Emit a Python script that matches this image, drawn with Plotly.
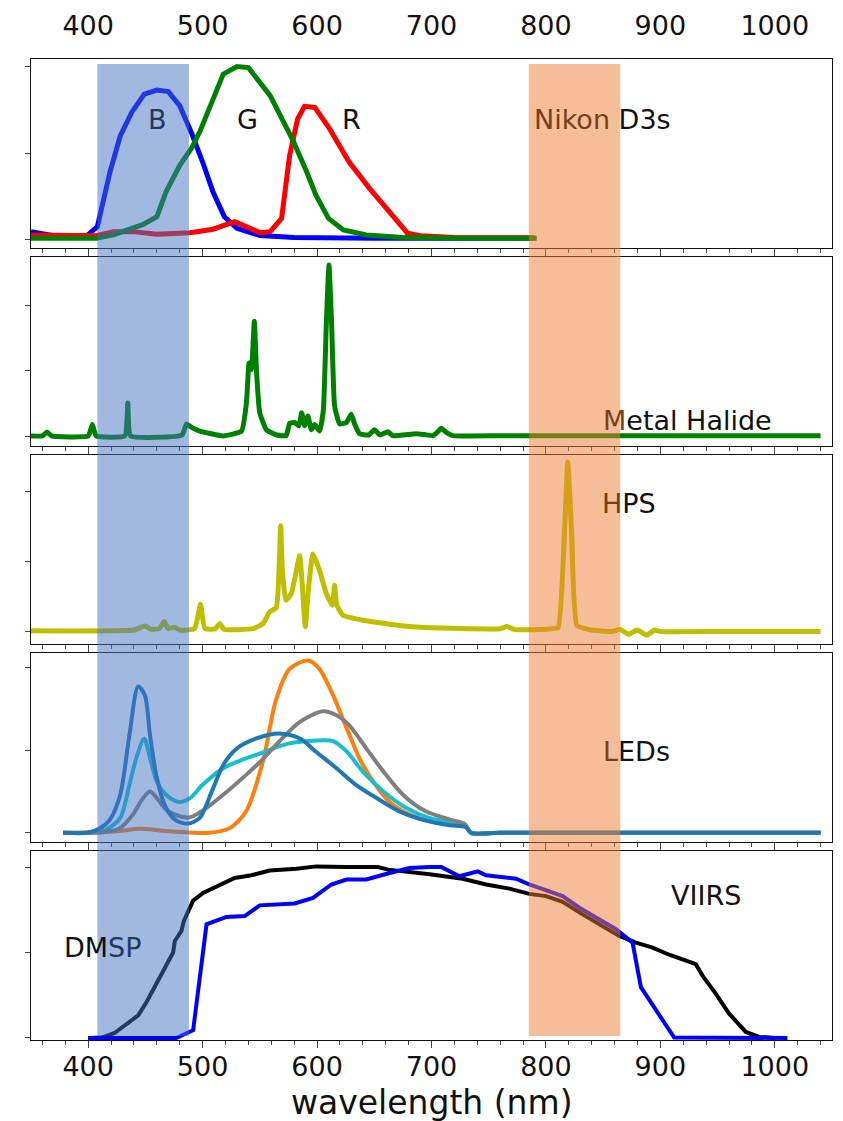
import plotly.graph_objects as go
from plotly.subplots import make_subplots

# ---------------- data ----------------
# Panel 1: Nikon D3s RGB sensitivities
nikon_b_nm = [350, 370, 399, 408, 419, 428, 438, 449, 460, 470, 480, 490, 500, 509, 519, 530, 550, 580, 650, 790]
nikon_b = [0.044, 0.021, 0.021, 0.073, 0.39, 0.60, 0.736, 0.842, 0.866, 0.857, 0.775, 0.621, 0.448, 0.275, 0.130,
           0.063, 0.021, 0.01, 0.005, 0.005]
nikon_r_nm = [350, 407, 422, 439, 460, 489, 509, 528, 538, 550, 559, 569, 576, 583, 589, 598, 611, 628, 646, 663,
              679, 690, 720, 790]
nikon_r = [0.025, 0.02, 0.044, 0.044, 0.029, 0.038, 0.058, 0.102, 0.073, 0.038, 0.044, 0.121, 0.486, 0.698, 0.771,
           0.765, 0.64, 0.448, 0.294, 0.159, 0.035, 0.02, 0.01, 0.008]
nikon_g_nm = [350, 407, 422, 448, 460, 468, 480, 490, 498, 508, 518, 530, 540, 559, 570, 579, 591, 599, 610, 623,
              643, 672, 720, 792]
nikon_g = [0.005, 0.005, 0.025, 0.086, 0.13, 0.275, 0.429, 0.525, 0.631, 0.794, 0.958, 1.002, 0.996, 0.833, 0.698,
           0.573, 0.39, 0.256, 0.121, 0.054, 0.025, 0.012, 0.006, 0.005]

# Panel 2: Metal Halide spectrum
mh_nm = [350, 360, 364, 368, 400, 403.6, 407, 432, 434.6, 437, 482, 485.9, 490, 497.5, 518, 534, 538.3, 540.6,
         542.6, 545.2, 547, 549.9, 555.7, 565, 573, 576.1, 580.4, 584.2, 586.5, 589.2, 592, 595, 597.9, 602.2,
         605.5, 608.1, 610.4, 612.7, 615.3, 619.7, 625.6, 629.9, 632.8, 637.2, 645, 650.2, 655, 661.9, 666, 686.6,
         693.9, 701, 705, 708.5, 712.9, 718.6, 760, 850, 950, 1040]
mh = [0.003, 0.003, 0.033, 0.003, 0.003, 0.089, 0.003, 0.003, 0.253, 0.003, 0.01, 0.094, 0.07, 0.04, 0.003, 0.04,
      0.258, 0.56, 0.51, 0.877, 0.51, 0.18, 0.05, 0.01, 0.005, 0.1, 0.105, 0.08, 0.18, 0.08, 0.155, 0.05, 0.09,
      0.04, 0.2, 0.864, 1.306, 0.864, 0.232, 0.094, 0.105, 0.169, 0.094, 0.02, 0.01, 0.05, 0.01, 0.035, 0.005,
      0.02, 0.013, 0.005, 0.03, 0.061, 0.03, 0.005, 0.004, 0.004, 0.004, 0.004]

# Panel 3: High Pressure Sodium spectrum
hps_nm = [350, 440, 449.6, 455, 462, 466.4, 470, 475.4, 480, 493, 498.1, 502, 511, 515, 518.5, 544, 552.8, 558.6,
          564.4, 566.8, 568.2, 569.6, 572.6, 577.5, 584.8, 587.2, 589.7, 592.6, 596.4, 602.2, 608.1, 613.3, 615.3,
          617.3, 622.6, 640.1, 660.5, 683.7, 724.4, 760, 766, 772, 782.6, 805, 810.7, 816.3, 819.1, 822.4, 827.1,
          838.8, 858, 865, 872, 880, 888, 895, 900, 950, 1000, 1040]
hps = [0.005, 0.01, 0.04, 0.015, 0.02, 0.071, 0.02, 0.03, 0.01, 0.02, 0.194, 0.02, 0.02, 0.056, 0.015, 0.02,
       0.056, 0.14, 0.171, 0.45, 0.756, 0.45, 0.223, 0.27, 0.542, 0.317, 0.033, 0.317, 0.554, 0.436, 0.27, 0.188,
       0.33, 0.188, 0.116, 0.08, 0.056, 0.033, 0.021, 0.02, 0.035, 0.015, 0.012, 0.02, 0.028, 0.72, 1.213, 0.72,
       0.045, 0.012, 0.0, 0.015, -0.02, 0.01, -0.026, 0.01, 0.0, 0.0, 0.0, 0.0]

# Panel 4: LED spectra
led_orange_nm = [378, 425, 445, 471, 506, 524, 538, 553, 564, 576, 592, 602, 614, 626, 637, 649, 663, 681, 701,
                 730, 734.6, 760, 850, 950, 1040]
led_orange = [0, 0.01, 0.024, 0.01, 0.0, 0.03, 0.13, 0.44, 0.80, 0.99, 1.04, 0.99, 0.83, 0.63, 0.45, 0.31, 0.19,
              0.11, 0.066, 0.04, 0, 0, 0, 0, 0]
led_cyan_nm = [378, 410, 416, 428, 436, 442, 449, 454, 460, 468, 479, 489, 500, 518, 538, 555, 570, 591, 614, 626,
               640, 658, 678, 698, 730, 734.6, 760, 850, 950, 1040]
led_cyan = [0, 0.005, 0.02, 0.09, 0.29, 0.45, 0.57, 0.45, 0.31, 0.23, 0.186, 0.21, 0.29, 0.39, 0.45, 0.49, 0.53,
            0.554, 0.554, 0.49, 0.37, 0.25, 0.15, 0.09, 0.04, 0, 0, 0, 0, 0]
led_gray_nm = [378, 415, 428, 439, 448, 454, 460, 468, 480, 489, 500, 518, 538, 552, 564, 585, 605, 617, 628, 643,
               658, 675, 695, 716, 729, 734.6, 760, 850, 950, 1040]
led_gray = [0, 0.005, 0.03, 0.11, 0.21, 0.25, 0.21, 0.14, 0.10, 0.094, 0.134, 0.23, 0.35, 0.44, 0.53, 0.67, 0.734,
            0.71, 0.65, 0.51, 0.37, 0.23, 0.13, 0.08, 0.054, 0, 0, 0, 0, 0]
led_blue_nm = [378, 399, 410, 419, 428, 436, 443.7, 449.5, 454, 460, 468, 477, 487, 497.5, 508, 518, 530, 547,
               567, 585, 599, 617, 634, 652, 672, 695, 716, 730, 734.6, 760, 850, 950, 1040]
led_blue = [0, 0, 0.026, 0.08, 0.23, 0.59, 0.884, 0.83, 0.59, 0.33, 0.15, 0.074, 0.056, 0.09, 0.25, 0.41, 0.51,
            0.57, 0.60, 0.57, 0.49, 0.39, 0.29, 0.21, 0.13, 0.074, 0.046, 0.034, 0, 0, 0, 0, 0]

# Panel 5: DMSP and VIIRS relative spectral responses
dmsp_nm = [400, 412, 423, 433.5, 443.7, 451, 459.7, 468.4, 474.2, 475.7, 481.5, 483.5, 487.3, 491.7, 500.4, 515,
           528, 542.6, 558.6, 581.9, 599.4, 625.6, 653.1, 661.9, 678, 698.3, 727.3, 747.7, 768.1, 785.5, 800.1,
           814.6, 832, 849.5, 864.1, 878.6, 893.2, 907.7, 931, 936.8, 948.5, 960.1, 974.7, 986.3, 1000]
dmsp = [0, 0.002, 0.029, 0.084, 0.132, 0.21, 0.316, 0.423, 0.5, 0.568, 0.626, 0.684, 0.742, 0.804, 0.849, 0.898,
        0.936, 0.952, 0.98, 0.99, 1.004, 1.0, 1.0, 0.985, 0.975, 0.958, 0.932, 0.898, 0.874, 0.843, 0.83, 0.797,
        0.723, 0.655, 0.597, 0.558, 0.529, 0.487, 0.432, 0.365, 0.258, 0.142, 0.035, 0.006, 0.0]
viirs_nm = [400, 457, 477, 491.7, 503.4, 520.8, 536.8, 549.9, 580.4, 596.4, 612.5, 625.6, 643, 663.4, 680.8, 698.3,
            708.5, 724.4, 740.4, 747.7, 773.9, 785.5, 814.6, 829.2, 861.2, 875.7, 883, 912.1, 1011]
viirs = [0, 0, 0, 0.045, 0.665, 0.708, 0.713, 0.776, 0.787, 0.82, 0.898, 0.927, 0.927, 0.965, 0.994, 1.0, 1.0,
         0.946, 0.975, 0.952, 0.932, 0.898, 0.83, 0.762, 0.636, 0.558, 0.297, 0.002, 0.0]

x_ticks = [400, 500, 600, 700, 800, 900, 1000]
y_ticks = [0, 0.5, 1.0]
blue_band = [408, 488]
orange_band = [785, 865]

# ---------------- figure ----------------
W, H = 843, 1121
M_L, M_R, M_T, M_B = 31, 10, 53, 81
PLOT_H = H - M_T - M_B


def py2paper(py):
    return (H - M_B - py) / PLOT_H


FONT = "DejaVu Sans"
fig = make_subplots(rows=5, cols=1, shared_xaxes=True, vertical_spacing=0.0094)

series = [
    (1, nikon_b_nm, nikon_b, "#0000ff", 5, "linear", 0),
    (1, nikon_r_nm, nikon_r, "#ff0000", 5, "linear", 0),
    (1, nikon_g_nm, nikon_g, "#008000", 5, "linear", 0),
    (2, mh_nm, mh, "#008000", 5, "spline", 0.4),
    (3, hps_nm, hps, "#bfbf00", 5, "spline", 0.4),
    (4, led_orange_nm, led_orange, "#ff7f0e", 4, "spline", 0.8),
    (4, led_cyan_nm, led_cyan, "#17becf", 4, "spline", 0.8),
    (4, led_gray_nm, led_gray, "#7f7f7f", 4, "spline", 0.8),
    (4, led_blue_nm, led_blue, "#1f77b4", 4, "spline", 0.8),
    (5, dmsp_nm, dmsp, "#000000", 4, "linear", 0),
    (5, viirs_nm, viirs, "#0000ff", 4, "linear", 0),
]
for row, xs, ys, col, lw, shape, sm in series:
    line = dict(color=col, width=lw, shape=shape)
    if shape == "spline":
        line["smoothing"] = sm
    fig.add_trace(go.Scatter(x=xs, y=ys, mode="lines", line=line,
                             showlegend=False, hoverinfo="skip"), row=row, col=1)

y_ranges = [[-0.050, 1.046], [-0.073, 1.367], [-0.089, 1.262], [-0.055, 1.085], [-0.012, 1.093]]
for i in range(1, 6):
    fig.update_xaxes(range=[350, 1050], showline=True, mirror=True, linecolor="#111", linewidth=1.3,
                     ticks="outside", tickmode="array", tickvals=x_ticks, ticklen=7, tickwidth=1.2,
                     tickcolor="#444",
                     minor=dict(ticks="outside", dtick=20, tick0=400, ticklen=4, tickwidth=1, tickcolor="#444"),
                     showgrid=False, zeroline=False,
                     tickfont=dict(family=FONT, size=27, color="#111"),
                     ticklabelstandoff=-5, row=i, col=1)
    fig.update_yaxes(range=y_ranges[i - 1], showline=True, mirror=True, linecolor="#111", linewidth=1.3,
                     ticks="outside", tickmode="array", tickvals=y_ticks, ticklen=5, tickwidth=1.2,
                     tickcolor="#444", showticklabels=False, showgrid=False, zeroline=False,
                     row=i, col=1)
fig.update_xaxes(showticklabels=True, row=5, col=1)

# top axis with labels only
fig.add_trace(go.Scatter(x=[None], y=[None], xaxis="x6", yaxis="y", showlegend=False, hoverinfo="skip"))
fig.update_layout(xaxis6=dict(overlaying="x", anchor="y", side="top", range=[350, 1050], tickmode="array",
                              tickvals=x_ticks, ticks="", showline=False, showgrid=False, zeroline=False,
                              tickfont=dict(family=FONT, size=27, color="#111"), ticklabelstandoff=18))

# translucent bands across all panels
for (x0, x1), c in [(blue_band, "#4472C4"), (orange_band, "#ED7D31")]:
    fig.add_shape(type="rect", xref="x", yref="paper", x0=x0, x1=x1, y0=py2paper(1036), y1=py2paper(58),
                  fillcolor=c, opacity=0.5, line=dict(width=0), layer="above")

BLUE_DARK = "#223962"
ORANGE_DARK = "#773F19"
labels = [
    (460.4, 114.2, f'<span style="color:{BLUE_DARK}">B</span>'),
    (539.0, 114.2, "G"),
    (630.2, 114.2, "R"),
    (849.7, 114.2, f'<span style="color:{ORANGE_DARK}">Nikon</span> D3s'),
    (923.4, 416.7, f'<span style="color:{ORANGE_DARK}">M</span>etal Halide'),
    (872.8, 500.3, f'<span style="color:{ORANGE_DARK}">H</span>PS'),
    (879.2, 749.7, f'<span style="color:{ORANGE_DARK}">L</span>EDs'),
    (940.0, 895.0, "VIIRS"),
    (413.0, 947.0, f'DM<span style="color:{BLUE_DARK}">SP</span>'),
]
for x, py, txt in labels:
    fig.add_annotation(x=x, y=py2paper(py), xref="x", yref="paper", text=txt, showarrow=False,
                       xanchor="center", yanchor="middle", font=dict(family=FONT, size=27, color="#111"))

fig.add_annotation(x=0.5, y=py2paper(1103), xref="paper", yref="paper", text="wavelength (nm)",
                   showarrow=False, xanchor="center", yanchor="middle",
                   font=dict(family=FONT, size=33, color="#111"))

fig.update_layout(width=W, height=H, margin=dict(l=M_L, r=M_R, t=M_T, b=M_B, pad=0),
                  paper_bgcolor="white", plot_bgcolor="white", showlegend=False,
                  font=dict(family=FONT, color="#111"))

fig.write_html("out.html", config={"displayModeBar": False},
               post_script="document.body.style.margin='0px';document.body.style.padding='0px';"
                           "document.body.style.overflow='hidden';")
